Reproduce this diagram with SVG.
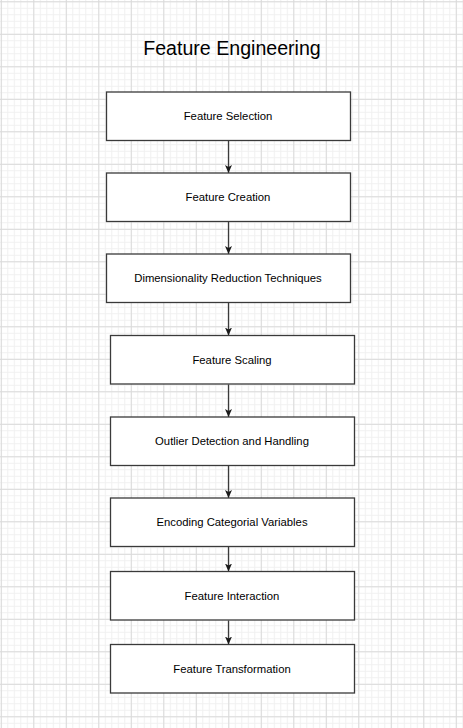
<svg xmlns="http://www.w3.org/2000/svg" width="463" height="728" viewBox="0 0 463 728">
<defs>
<pattern id="minor" patternUnits="userSpaceOnUse" x="0.8" y="1.3" width="6.5" height="6.5">
<path d="M0.5 0V6.5M0 0.5H6.5" stroke="#f0f0f0" stroke-width="1" fill="none"/>
</pattern>
<pattern id="major" patternUnits="userSpaceOnUse" x="0.8" y="1.3" width="32.5" height="32.5">
<path d="M0.5 0V32.5M0 0.5H32.5" stroke="#dadada" stroke-width="1" fill="none"/>
</pattern>
<marker id="arr" markerUnits="userSpaceOnUse" markerWidth="10" markerHeight="10" refX="8" refY="3.5" orient="auto">
<path d="M0 0L8 3.5L0 7L2 3.5Z" fill="#1a1a1a"/>
</marker>
<style>
.box{fill:#ffffff;stroke:#3a3a3a;stroke-width:1.3}
.lbl{font-family:"Liberation Sans",Arial,sans-serif;font-size:11.3px;fill:#000;text-anchor:middle}
.edge{stroke:#3a3a3a;stroke-width:1.3;fill:none;marker-end:url(#arr)}
</style>
</defs>
<rect width="463" height="728" fill="#ffffff"/>
<rect width="463" height="728" fill="url(#minor)"/>
<rect width="463" height="728" fill="url(#major)"/>
<text x="232" y="55" font-family="Liberation Sans, Arial, sans-serif" font-size="19.6" text-anchor="middle" fill="#000">Feature Engineering</text>
<g id="edges">
<line class="edge" x1="228.5" y1="140.5" x2="228.5" y2="173"/>
<line class="edge" x1="228.5" y1="221.5" x2="228.5" y2="254"/>
<line class="edge" x1="228.5" y1="302.5" x2="228.5" y2="335.5"/>
<line class="edge" x1="228.5" y1="384.5" x2="228.5" y2="417"/>
<line class="edge" x1="228.5" y1="465.5" x2="228.5" y2="498"/>
<line class="edge" x1="228.5" y1="546.5" x2="228.5" y2="571.5"/>
<line class="edge" x1="228.5" y1="620.5" x2="228.5" y2="644.5"/>
</g>
<g id="n1"><rect class="box" x="106.5" y="92" width="244" height="48.5"/><text class="lbl" x="228" y="120">Feature Selection</text></g>
<g id="n2"><rect class="box" x="106.5" y="173" width="244" height="48.5"/><text class="lbl" x="228" y="201">Feature Creation</text></g>
<g id="n3"><rect class="box" x="106.5" y="254" width="244" height="48.5"/><text class="lbl" x="228" y="282">Dimensionality Reduction Techniques</text></g>
<g id="n4"><rect class="box" x="110.5" y="335.5" width="244" height="48.5"/><text class="lbl" x="232" y="364">Feature Scaling</text></g>
<g id="n5"><rect class="box" x="110.5" y="417" width="244" height="48.5"/><text class="lbl" x="232" y="445">Outlier Detection and Handling</text></g>
<g id="n6"><rect class="box" x="110.5" y="498" width="244" height="48.5"/><text class="lbl" x="232" y="526">Encoding Categorial Variables</text></g>
<g id="n7"><rect class="box" x="110.5" y="571.5" width="244" height="48.5"/><text class="lbl" x="232" y="599.5">Feature Interaction</text></g>
<g id="n8"><rect class="box" x="110.5" y="644.5" width="244" height="48.5"/><text class="lbl" x="232" y="673">Feature Transformation</text></g>
</svg>
